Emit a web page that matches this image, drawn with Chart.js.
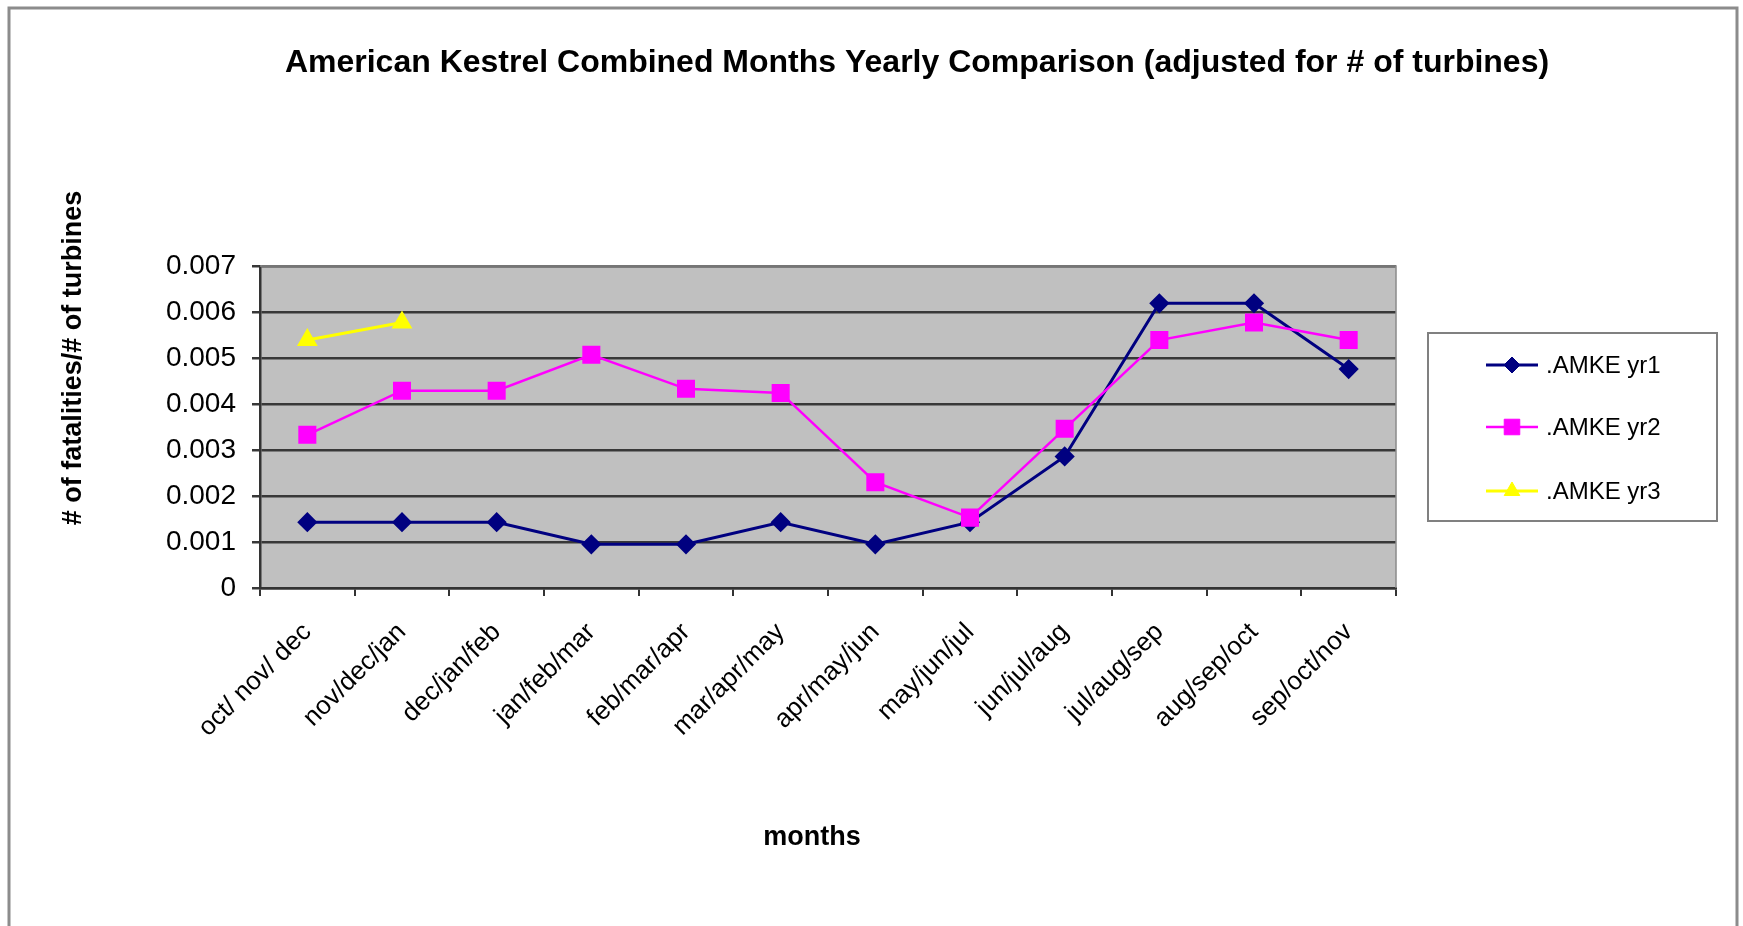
<!DOCTYPE html>
<html>
<head>
<meta charset="utf-8">
<title>American Kestrel Combined Months Yearly Comparison</title>
<script src="https://cdn.jsdelivr.net/npm/chart.js@4.4.1/dist/chart.umd.min.js"></script>
<style>
  html, body { margin: 0; padding: 0; background: #ffffff; }
  #wrap { width: 1743px; height: 926px; position: relative; }
</style>
</head>
<body>
<div id="wrap"><canvas id="chart" width="1743" height="926"></canvas></div>
<script>
// data
var categories = ['oct/ nov/ dec', 'nov/dec/jan', 'dec/jan/feb', 'jan/feb/mar', 'feb/mar/apr', 'mar/apr/may',
                  'apr/may/jun', 'may/jun/jul', 'jun/jul/aug', 'jul/aug/sep', 'aug/sep/oct', 'sep/oct/nov'];
var amkeYr1 = [0.00143, 0.00143, 0.00143, 0.00095, 0.00095, 0.00143, 0.00095, 0.00143, 0.00286, 0.00619, 0.00619, 0.00476];
var amkeYr2 = [0.00333, 0.00429, 0.00429, 0.00507, 0.00433, 0.00424, 0.00230, 0.00153, 0.00346, 0.00539, 0.00577, 0.00539];
var amkeYr3 = [0.00539, 0.00577, null, null, null, null, null, null, null, null, null, null];
var yTicks = ['0', '0.001', '0.002', '0.003', '0.004', '0.005', '0.006', '0.007'];
var seriesNames = ['.AMKE yr1', '.AMKE yr2', '.AMKE yr3'];

var chartTitle = 'American Kestrel Combined Months Yearly Comparison (adjusted for # of turbines)';
var yTitle = '# of fatalities/# of turbines';
var xTitle = 'months';

var FONT = '"Liberation Sans", Arial, sans-serif';

// plot area, frame, titles and legend box in the Excel look
var excelLook = {
    id: 'excelLook',
    beforeDraw: function (chart) {
        var ctx = chart.ctx, a = chart.chartArea;
        ctx.save();
        ctx.fillStyle = '#ffffff';
        ctx.fillRect(0, 0, chart.width, chart.height);
        ctx.fillStyle = '#c0c0c0';
        ctx.fillRect(a.left, a.top, a.right - a.left, a.bottom - a.top);
        ctx.restore();
    },
    afterDatasetsDraw: function (chart) {
        var ctx = chart.ctx, a = chart.chartArea;
        ctx.save();
        // outer frame
        ctx.strokeStyle = '#8c8c8c';
        ctx.lineWidth = 3;
        ctx.beginPath();
        ctx.moveTo(9, chart.height + 5);
        ctx.lineTo(9, 8);
        ctx.lineTo(1737, 8);
        ctx.lineTo(1737, chart.height + 5);
        ctx.stroke();
        // plot area edge top / right
        ctx.strokeStyle = '#8a8a8a';
        ctx.lineWidth = 1.5;
        ctx.beginPath();
        ctx.moveTo(a.left, a.top);
        ctx.lineTo(a.right, a.top);
        ctx.lineTo(a.right, a.bottom);
        ctx.stroke();

        ctx.fillStyle = '#000000';
        ctx.textAlign = 'center';
        ctx.textBaseline = 'middle';
        // chart title
        ctx.font = 'bold 32px ' + FONT;
        ctx.fillText(chartTitle, 917, 63);
        // x title
        ctx.font = 'bold 27px ' + FONT;
        ctx.fillText(xTitle, 812, 838);
        // y title
        ctx.save();
        ctx.translate(74, 358);
        ctx.rotate(-Math.PI / 2);
        ctx.fillText(yTitle, 0, 0);
        ctx.restore();

        // legend box
        ctx.strokeStyle = '#808080';
        ctx.lineWidth = 2;
        ctx.strokeRect(1428, 333, 289, 188);
        var rows = [365, 427, 491];
        ctx.font = '24px ' + FONT;
        ctx.textAlign = 'left';
        chart.data.datasets.forEach(function (ds, i) {
            var y = rows[i];
            ctx.strokeStyle = ds.borderColor;
            ctx.lineWidth = ds.borderWidth;
            ctx.beginPath();
            ctx.moveTo(1486, y);
            ctx.lineTo(1538, y);
            ctx.stroke();
            ctx.fillStyle = ds.pointBackgroundColor;
            ctx.strokeStyle = ds.pointBorderColor;
            ctx.lineWidth = 1;
            Chart.helpers.drawPoint(ctx, { pointStyle: ds.pointStyle, radius: ds.pointRadius, rotation: 0, borderWidth: 1 }, 1512, y);
            ctx.fillStyle = '#000000';
            ctx.fillText(ds.label, 1546, y + 1);
        });
        ctx.restore();
    }
};

var ctx = document.getElementById('chart').getContext('2d');
new Chart(ctx, {
    type: 'line',
    data: {
        labels: categories,
        datasets: [
            {
                label: seriesNames[0], data: amkeYr1, order: 2,
                borderColor: '#000080', borderWidth: 3,
                pointStyle: 'rectRot', pointRadius: 8,
                pointBackgroundColor: '#000080', pointBorderColor: '#000080',
                tension: 0
            },
            {
                label: seriesNames[1], data: amkeYr2, order: 1,
                borderColor: '#ff00ff', borderWidth: 2.5,
                pointStyle: 'rect', pointRadius: 11,
                pointBackgroundColor: '#ff00ff', pointBorderColor: '#ff00ff',
                tension: 0
            },
            {
                label: seriesNames[2], data: amkeYr3, order: 0,
                borderColor: '#ffff00', borderWidth: 3,
                pointStyle: 'triangle', pointRadius: 9,
                pointBackgroundColor: '#ffff00', pointBorderColor: '#ffff00',
                tension: 0
            }
        ]
    },
    options: {
        responsive: false,
        animation: false,
        layout: { padding: { left: 0, top: 266, right: 347, bottom: 0 } },
        plugins: {
            legend: { display: false },
            title: { display: false },
            tooltip: { enabled: false }
        },
        scales: {
            x: {
                offset: true,
                grid: { offset: true, drawOnChartArea: false, drawTicks: true, tickLength: 8, color: '#333333', lineWidth: 2 },
                border: { color: '#333333', width: 2.5 },
                ticks: {
                    color: '#000000', font: { family: FONT, size: 26 },
                    minRotation: 45, maxRotation: 45, padding: 21, autoSkip: false
                },
                afterFit: function (scale) { scale.height = 338; }
            },
            y: {
                min: 0, max: 0.007,
                grid: { color: '#383838', lineWidth: 2.5, drawTicks: true, tickLength: 8 },
                border: { color: '#333333', width: 2.5 },
                ticks: {
                    stepSize: 0.001, color: '#000000', padding: 16,
                    font: { family: FONT, size: 28 },
                    callback: function (v, i) { return yTicks[i]; }
                },
                afterFit: function (scale) { scale.width = 260; }
            }
        }
    },
    plugins: [excelLook]
});
</script>
</body>
</html>
